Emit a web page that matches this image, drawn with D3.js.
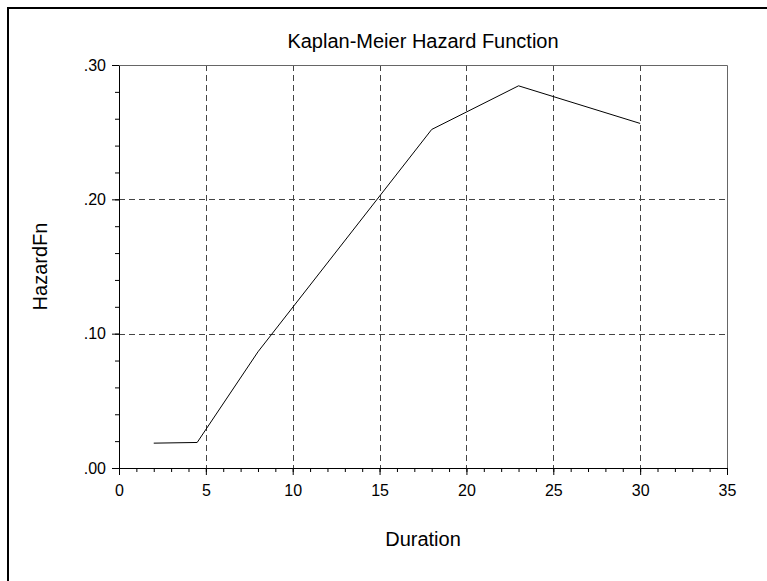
<!DOCTYPE html>
<html>
<head>
<meta charset="utf-8">
<script src="https://cdn.jsdelivr.net/npm/d3@7"></script>
<style>
  body { margin: 0; background: #fff; }
  text { font-family: "Liberation Sans", Arial, sans-serif; fill: #000; }
</style>
</head>
<body>
<div class="chart"></div>
<script>
var svgWidth = 767;
var svgHeight = 581;

// data
var duration = [2, 4.5, 8, 18, 23, 30];
var hazard = [0.0185, 0.019, 0.0865, 0.252, 0.2845, 0.2565];
var xTicks = [0, 5, 10, 15, 20, 25, 30, 35];
var yTicks = [0, 0.10, 0.20, 0.30];

var margin = { top: 65, right: 40, bottom: 113, left: 119 };
var width = 727 - margin.left;
var height = 468 - margin.top;

var svg = d3.select(".chart")
  .append("svg")
  .attr("width", svgWidth)
  .attr("height", svgHeight);

// outer frame, runs off the right and bottom of the window
svg.append("rect")
  .attr("x", 8).attr("y", 8)
  .attr("width", 800).attr("height", 700)
  .attr("fill", "none")
  .attr("stroke", "#000")
  .attr("stroke-width", 2);

var chart = svg.append("g")
  .attr("transform", "translate(" + margin.left + "," + margin.top + ")");

var x = d3.scaleLinear().domain([0, 35]).range([0, width]);
var y = d3.scaleLinear().domain([0, 0.30]).range([height, 0]);

// dashed grid
chart.append("g").selectAll("line")
  .data(xTicks.filter(function(d) { return d > 0 && d < 35; }))
  .enter().append("line")
    .attr("x1", function(d) { return Math.round(x(d)) + 0.5; })
    .attr("x2", function(d) { return Math.round(x(d)) + 0.5; })
    .attr("y1", 0).attr("y2", height)
    .attr("stroke", "#444")
    .attr("stroke-dasharray", "6,4");

chart.append("g").selectAll("line")
  .data(yTicks.filter(function(d) { return d > 0 && d < 0.3; }))
  .enter().append("line")
    .attr("y1", function(d) { return Math.round(y(d)) + 0.5; })
    .attr("y2", function(d) { return Math.round(y(d)) + 0.5; })
    .attr("x1", 0).attr("x2", width)
    .attr("stroke", "#444")
    .attr("stroke-dasharray", "6,4");

// top and right frame
chart.append("path")
  .attr("d", "M0.5,0.5H" + (width + 0.5) + "V" + height)
  .attr("fill", "none")
  .attr("stroke", "#666");

// minor ticks
var bottomMinor = d3.axisBottom(x).tickValues(d3.range(0, 36, 1)).tickSize(4).tickFormat("");
var leftMinor = d3.axisLeft(y).tickValues(d3.range(0, 0.301, 0.02)).tickSize(4).tickFormat("");

chart.append("g")
  .attr("transform", "translate(0," + height + ")")
  .call(bottomMinor)
  .call(function(g) { g.select(".domain").remove(); });

chart.append("g")
  .call(leftMinor)
  .call(function(g) { g.select(".domain").remove(); });

// major axes
var bottomAxis = d3.axisBottom(x).tickValues(xTicks).tickSize(7).tickSizeOuter(0).tickPadding(10);
var leftAxis = d3.axisLeft(y).tickValues(yTicks).tickSize(7).tickSizeOuter(0).tickPadding(6)
  .tickFormat(function(d) { return d3.format(".2f")(d).replace(/^0/, ""); });

chart.append("g")
  .attr("transform", "translate(0," + height + ")")
  .call(bottomAxis)
  .selectAll("text")
    .style("font-size", "16px");

chart.append("g")
  .call(leftAxis)
  .selectAll("text")
    .style("font-size", "16px");

chart.selectAll(".domain").attr("stroke", "#000");

// hazard line
var line = d3.line()
  .x(function(d, i) { return x(duration[i]); })
  .y(function(d) { return y(d); });

chart.append("path")
  .datum(hazard)
  .attr("d", line)
  .attr("fill", "none")
  .attr("stroke", "#000")
  .attr("stroke-width", 1);

// titles
svg.append("text")
  .attr("x", margin.left + width / 2)
  .attr("y", 48)
  .attr("text-anchor", "middle")
  .style("font-size", "20px")
  .text("Kaplan-Meier Hazard Function");

svg.append("text")
  .attr("x", margin.left + width / 2)
  .attr("y", 546)
  .attr("text-anchor", "middle")
  .style("font-size", "20px")
  .text("Duration");

svg.append("text")
  .attr("transform", "translate(47," + (margin.top + height / 2) + ") rotate(-90)")
  .attr("text-anchor", "middle")
  .style("font-size", "20px")
  .text("HazardFn");
</script>
</body>
</html>
